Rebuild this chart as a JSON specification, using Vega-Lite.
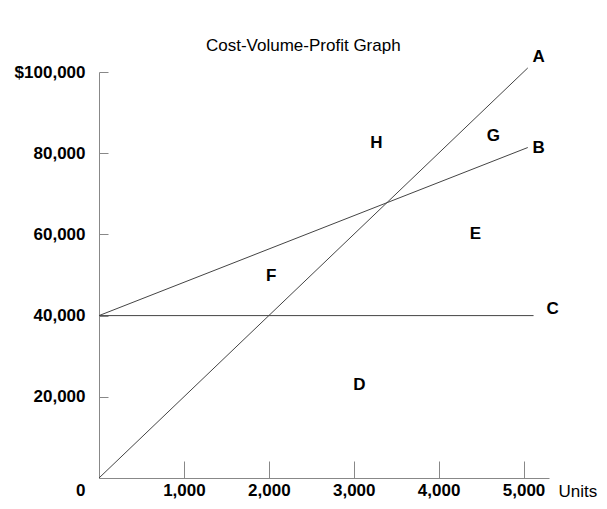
{
  "$schema": "https://vega.github.io/schema/vega-lite/v6.json",
  "width": 450,
  "height": 406,
  "autosize": "none",
  "padding": {"left": 99, "top": 72, "right": 58, "bottom": 31},
  "background": "white",
  "title": {
    "text": "Cost-Volume-Profit Graph",
    "anchor": "start",
    "frame": "group",
    "dx": 107,
    "dy": 39,
    "offset": 19,
    "baseline": "alphabetic",
    "font": "Liberation Sans",
    "fontSize": 17,
    "fontWeight": "normal",
    "color": "black"
  },
  "config": {
    "view": {"stroke": null},
    "axis": {"grid": false}
  },
  "datasets": {
    "lines": [
      {"line": "A", "x": 0, "y": 0},
      {"line": "A", "x": 5050, "y": 101000},
      {"line": "B", "x": 0, "y": 40000},
      {"line": "B", "x": 5050, "y": 81400},
      {"line": "C", "x": 0, "y": 40000},
      {"line": "C", "x": 5118, "y": 40000}
    ],
    "labels": [
      {"label": "A", "x": 5177, "y": 103700},
      {"label": "B", "x": 5177, "y": 81300},
      {"label": "C", "x": 5342, "y": 41600},
      {"label": "D", "x": 3066, "y": 22900},
      {"label": "E", "x": 4434, "y": 60100},
      {"label": "F", "x": 2028, "y": 49750},
      {"label": "G", "x": 4646, "y": 84200},
      {"label": "H", "x": 3267, "y": 82500}
    ]
  },
  "layer": [
    {
      "data": {"name": "lines"},
      "mark": {"type": "line", "color": "#444444", "strokeWidth": 1, "clip": false},
      "encoding": {
        "x": {
          "field": "x",
          "type": "quantitative",
          "scale": {"domain": [0, 5300], "nice": false, "zero": true},
          "axis": {
            "values": [1000, 2000, 3000, 4000, 5000],
            "labelExpr": "format(datum.value, ',')",
            "domainColor": "#888888",
            "tickColor": "#888888",
            "tickSize": -17,
            "labelPadding": 21,
            "labelFont": "Liberation Sans",
            "labelFontSize": 17,
            "labelFontWeight": "bold",
            "labelColor": "black",
            "labelFlush": false,
            "title": "Units",
            "titleX": 459,
            "titleY": 13,
            "titleAlign": "left",
            "titleBaseline": "middle",
            "titleFont": "Liberation Sans",
            "titleFontSize": 17,
            "titleFontWeight": "normal",
            "titleColor": "black"
          }
        },
        "y": {
          "field": "y",
          "type": "quantitative",
          "scale": {"domain": [0, 100000], "nice": false, "zero": true},
          "axis": {
            "values": [0, 20000, 40000, 60000, 80000, 100000],
            "labelExpr": "datum.value == 100000 ? '$100,000' : format(datum.value, ',')",
            "domainColor": "#888888",
            "tickColor": "#888888",
            "tickSize": -9,
            "labelPadding": 23,
            "labelFont": "Liberation Sans",
            "labelFontSize": 17,
            "labelFontWeight": "bold",
            "labelColor": "black",
            "labelFlush": false,
            "labelBaseline": {"condition": {"test": "datum.value == 0", "value": "top"}, "value": "middle"},
            "labelOffset": {"condition": {"test": "datum.value == 0", "value": 4}, "value": 0},
            "title": null
          }
        },
        "detail": {"field": "line"}
      }
    },
    {
      "data": {"name": "labels"},
      "mark": {
        "type": "text",
        "font": "Liberation Sans",
        "fontSize": 17,
        "fontWeight": "bold",
        "color": "black",
        "align": "center",
        "baseline": "middle",
        "clip": false
      },
      "encoding": {
        "x": {"field": "x", "type": "quantitative"},
        "y": {"field": "y", "type": "quantitative"},
        "text": {"field": "label"}
      }
    }
  ]
}
